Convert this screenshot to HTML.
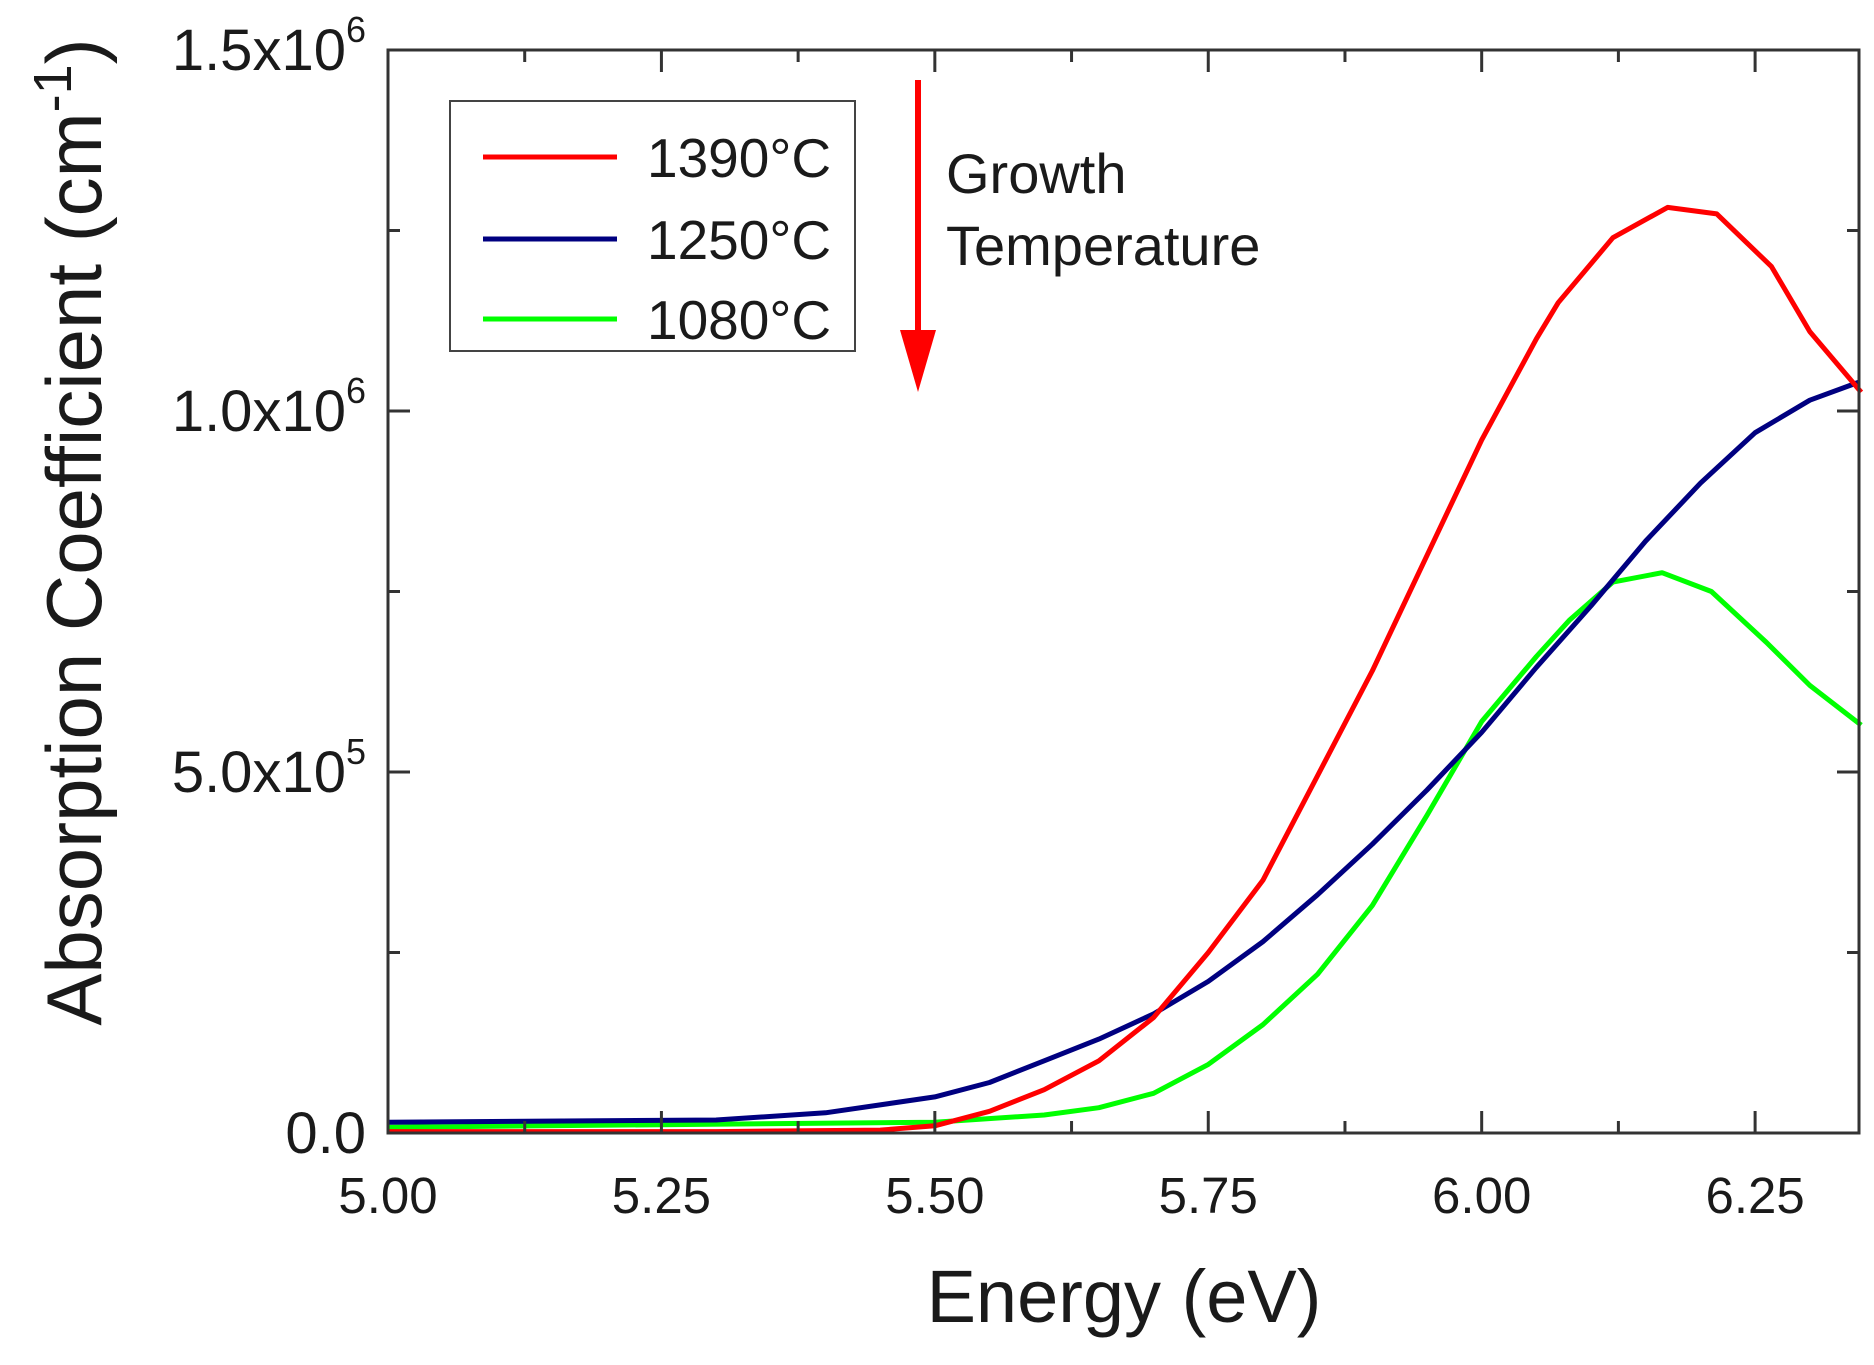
<!DOCTYPE html>
<html><head><meta charset="utf-8"><style>
body{margin:0;background:#fff;}
svg text{font-family:"Liberation Sans",sans-serif;fill:#1a1a1a;}
</style></head><body>
<svg id="chart" width="1874" height="1360" xmlns="http://www.w3.org/2000/svg">
<g id="series"></g>
<g id="axes"></g>
<g>
<rect x="450" y="101" width="405" height="250" fill="#fff" stroke="#444" stroke-width="2"/>
<line x1="483" y1="157" x2="617" y2="157" stroke="#ff0000" stroke-width="5"/>
<text x="647" y="177" font-size="55">1390°C</text>
<line x1="483" y1="239" x2="617" y2="239" stroke="#000080" stroke-width="5"/>
<text x="647" y="259" font-size="55">1250°C</text>
<line x1="483" y1="319" x2="617" y2="319" stroke="#00ff00" stroke-width="5"/>
<text x="647" y="339" font-size="55">1080°C</text>
</g>
<g>
<line x1="918" y1="80" x2="918" y2="335" stroke="#ff0000" stroke-width="6"/>
<polygon points="900,330 936,330 918,392" fill="#ff0000"/>
</g>
<text x="946" y="193" font-size="56">Growth</text>
<text x="946" y="265" font-size="56">Temperature</text>
<text x="1124" y="1322" font-size="74" text-anchor="middle">Energy (eV)</text>
<text transform="translate(101,532) rotate(-90)" font-size="78" text-anchor="middle">Absorption Coefficient (cm<tspan font-size="54" dy="-30">-1</tspan><tspan dy="30">)</tspan></text>
</svg>
<script>
const xTicks=[5.00,5.25,5.50,5.75,6.00,6.25];
const xTickLabels=["5.00","5.25","5.50","5.75","6.00","6.25"];
const yTicks=[0,5e5,1e6,1.5e6];
const yTickLabels=[["0.0",""],["5.0x10","5"],["1.0x10","6"],["1.5x10","6"]];
const energy1390=[5.0,5.3,5.45,5.5,5.55,5.6,5.65,5.7,5.75,5.8,5.85,5.9,5.95,6.0,6.05,6.07,6.12,6.17,6.215,6.265,6.30,6.347];
const alpha1390=[2e3,2e3,4e3,1e4,3e4,6e4,1.0e5,1.6e5,2.5e5,3.5e5,4.95e5,6.4e5,8.0e5,9.6e5,1.1e6,1.15e6,1.24e6,1.282e6,1.273e6,1.2e6,1.11e6,1.026e6];
const energy1250=[5.0,5.3,5.4,5.5,5.55,5.6,5.65,5.7,5.75,5.8,5.85,5.9,5.95,6.0,6.05,6.1,6.15,6.2,6.25,6.3,6.345];
const alpha1250=[1.5e4,1.8e4,2.8e4,5e4,7e4,1.0e5,1.3e5,1.65e5,2.1e5,2.65e5,3.3e5,4.0e5,4.75e5,5.55e5,6.45e5,7.3e5,8.2e5,9.0e5,9.7e5,1.015e6,1.04e6];
const energy1080=[5.0,5.5,5.6,5.65,5.7,5.75,5.8,5.85,5.9,5.95,6.0,6.05,6.08,6.12,6.165,6.21,6.26,6.30,6.347];
const alpha1080=[8e3,1.5e4,2.5e4,3.5e4,5.5e4,9.5e4,1.5e5,2.2e5,3.15e5,4.4e5,5.7e5,6.6e5,7.1e5,7.63e5,7.76e5,7.5e5,6.8e5,6.2e5,5.65e5];
const NS="http://www.w3.org/2000/svg";
const L=388,R=1859,T=50,B=1133;
const xScale=v=>L+(v-5.0)*(R-L)/(6.345-5.0);
const yScale=v=>B-v*(B-T)/1.5e6;
function mk(tag,attrs,parent){const e=document.createElementNS(NS,tag);for(const k in attrs)e.setAttribute(k,attrs[k]);parent.appendChild(e);return e;}
const series=document.getElementById('series');
const defs=[[energy1080,alpha1080,'#00ff00','line-1080'],[energy1250,alpha1250,'#000080','line-1250'],[energy1390,alpha1390,'#ff0000','line-1390']];
defs.forEach(d=>{
 const pts=d[0].map((x,i)=>xScale(x).toFixed(1)+','+yScale(d[1][i]).toFixed(1)).join(' ');
 const p=mk('polyline',{points:pts,fill:'none',stroke:d[2],'stroke-width':5,'stroke-linejoin':'round'},series);
 
 
});
const axes=document.getElementById('axes');
const frame=mk('rect',{x:L,y:T,width:R-L,height:B-T,fill:'none',stroke:'#333','stroke-width':3},axes);


for(let v=5.0;v<=6.345;v+=0.125){
 const x=xScale(v);const major=Math.abs((v/0.25)-Math.round(v/0.25))<1e-6;const len=major?22:12;
 mk('line',{x1:x,y1:B,x2:x,y2:B-len,stroke:'#333','stroke-width':3},axes);
 mk('line',{x1:x,y1:T,x2:x,y2:T+len,stroke:'#333','stroke-width':3},axes);
}
for(let v=0;v<=1.5e6;v+=2.5e5){
 const y=yScale(v);const major=(v%5e5)===0;const len=major?22:12;
 mk('line',{x1:L,y1:y,x2:L+len,y2:y,stroke:'#333','stroke-width':3},axes);
 mk('line',{x1:R,y1:y,x2:R-len,y2:y,stroke:'#333','stroke-width':3},axes);
}
xTicks.forEach((v,i)=>{
 const t=mk('text',{x:xScale(v),y:1213,'font-size':51,'text-anchor':'middle'},axes);
 t.textContent=xTickLabels[i];
 
 
});
yTicks.forEach((v,i)=>{
 const t=mk('text',{x:366,y:yScale(v)+20,'font-size':58,'text-anchor':'end'},axes);
 
 
 const a=document.createElementNS(NS,'tspan');a.textContent=yTickLabels[i][0];t.appendChild(a);
 if(yTickLabels[i][1]){const s=document.createElementNS(NS,'tspan');s.setAttribute('dy','-28');s.setAttribute('font-size','36');s.textContent=yTickLabels[i][1];t.appendChild(s);}
});
</script>
</body></html>
